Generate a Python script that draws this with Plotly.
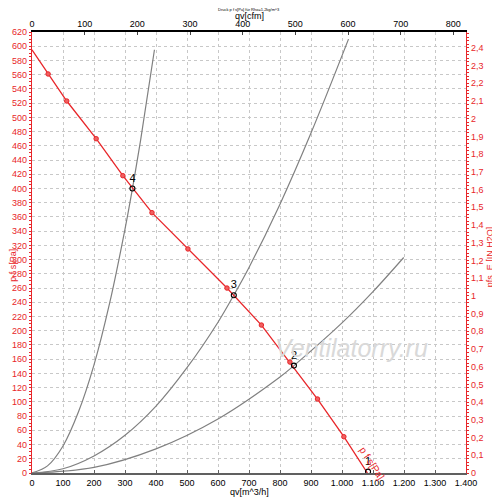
import plotly.graph_objects as go

# fan curve p f s [Pa] vs qv [m^3/h]
fan_q = [0, 52, 112, 207, 293, 387, 503, 629, 740, 832, 921, 1006, 1082]
fan_p = [595, 561, 523, 470, 418, 366, 315, 260, 208, 156, 104, 51, 0]

# system curves
sys4_q = [0, 50, 100, 150, 200, 250, 300, 324, 350, 395]
sys4_p = [0, 10, 38, 86, 152, 238, 343, 400, 467, 595]
sys3_q = [0, 100, 200, 300, 400, 500, 600, 651, 700, 800, 900, 1021]
sys3_p = [0, 6, 24, 53, 94, 148, 212, 250, 289, 378, 478, 610]
sys2_q = [0, 200, 400, 600, 800, 845, 1000, 1100, 1199]
sys2_p = [0, 8, 34, 76, 135, 151, 211, 255, 303]

# operating points
op_q = [1084, 845, 651, 324]
op_p = [2, 151, 250, 400]
op_lbl = ['1', '2', '3', '4']

x_ticks = list(range(0, 1500, 100))
x_text = ['0', '100', '200', '300', '400', '500', '600', '700', '800', '900',
          '1.000', '1.100', '1.200', '1.300', '1.400']
cfm_ticks = list(range(0, 900, 100))
inh2o_ticks = [i / 10 for i in range(0, 25)]
inh2o_text = ['0'] + [('%.1f' % v).replace('.', ',').rstrip('0').rstrip(',') for v in inh2o_ticks[1:]]

PA_PER_INH2O = 249.09
M3H_PER_CFM = 1.699
red = '#e8262a'
fnt = 'Liberation Sans, Arial, sans-serif'

fig = go.Figure()

for q, p in [(sys4_q, sys4_p), (sys3_q, sys3_p), (sys2_q, sys2_p)]:
    fig.add_trace(go.Scatter(x=q, y=p, mode='lines', line=dict(color='#808080', width=1.2, shape='spline'),
                             hoverinfo='skip'))

fig.add_trace(go.Scatter(x=fan_q, y=fan_p, mode='lines', line=dict(color=red, width=1.3)))
fig.add_trace(go.Scatter(x=fan_q[1:-1], y=fan_p[1:-1], mode='markers',
                         marker=dict(color='#f06060', size=4.5, line=dict(color=red, width=1))))

fig.add_trace(go.Scatter(x=op_q, y=op_p, mode='markers+text', text=op_lbl, textposition='top center',
                         textfont=dict(family=fnt, size=11, color='black'),
                         marker=dict(symbol='circle-open', color='black', size=5, line=dict(width=1.1))))

# dummy traces so the secondary axes are drawn
fig.add_trace(go.Scatter(x=[0], y=[0], xaxis='x2', yaxis='y', mode='markers', marker=dict(opacity=0),
                         hoverinfo='skip'))
fig.add_trace(go.Scatter(x=[0], y=[0], xaxis='x', yaxis='y2', mode='markers', marker=dict(opacity=0),
                         hoverinfo='skip'))

fig.add_annotation(x=1098, y=14, text='p f s[Pa]', showarrow=False, textangle=57,
                   font=dict(family=fnt, size=10, color=red))
fig.add_annotation(x=1030, y=176, text='Ventilatorry.ru', showarrow=False,
                   font=dict(family=fnt, size=25, color='#d9d9d9', style='italic'))


def paper_note(x, y, text, color='black', size=9, angle=0):
    fig.add_annotation(x=x, y=y, xref='paper', yref='paper', xanchor='center', yanchor='middle',
                       text=text, showarrow=False, textangle=angle, borderpad=0,
                       font=dict(family=fnt, size=size, color=color))


paper_note(0.5, 1.05, 'Druck p f s[Pa] für Rho=1,2kg/m^3', size=4)
paper_note(0.502, 1.037, 'qv[cfm]', size=9)
paper_note(0.502, -0.042, 'qv[m^3/h]', size=9)
paper_note(-0.044, 0.472, 'p f s[Pa]', color=red, size=9, angle=-90)
paper_note(1.054, 0.49, 'pfs_E [IN H2O]', color=red, size=9, angle=-90)

# page body has an 8px margin, so the figure is shrunk by 8px
fig.update_layout(
    width=492, height=491,
    margin=dict(l=24, r=34, t=24, b=26, autoexpand=False),
    paper_bgcolor='white', plot_bgcolor='white',
    showlegend=False,
    font=dict(family=fnt, size=9, color='black'),
    xaxis=dict(range=[0, 1400], tickvals=x_ticks, ticktext=x_text, showgrid=True,
               gridcolor='#c8c8c8', griddash='dot', gridwidth=1, automargin=False,
               showline=True, linecolor='#606060', linewidth=2, ticks='inside', ticklen=3,
               tickcolor='#606060', zeroline=False, tickfont=dict(size=9)),
    xaxis2=dict(range=[0, 1400 / M3H_PER_CFM], overlaying='x', side='top', tickvals=cfm_ticks,
                showgrid=False, showline=True, linecolor='black', linewidth=1.5, ticks='inside',
                ticklen=3, zeroline=False, tickfont=dict(size=9), automargin=False),
    yaxis=dict(range=[0, 620], dtick=20, showgrid=True, gridcolor='#c8c8c8', griddash='dot', gridwidth=1,
               showline=True, linecolor=red, linewidth=1.2, ticks='outside', ticklen=2, tickcolor=red,
               tickfont=dict(size=9, color=red), zeroline=False, automargin=False,
               minor=dict(dtick=5, ticks='outside', ticklen=2, tickcolor=red, showgrid=False)),
    yaxis2=dict(range=[0, 620 / PA_PER_INH2O], overlaying='y', side='right', tickvals=inh2o_ticks,
                ticktext=inh2o_text, showgrid=False, showline=True, linecolor=red, linewidth=1.2,
                ticks='outside', ticklen=2, tickcolor=red, tickfont=dict(size=9, color=red),
                zeroline=False, automargin=False,
                minor=dict(dtick=0.02, ticks='outside', ticklen=2, tickcolor=red, showgrid=False)),
)

fig.write_html('out.html')
